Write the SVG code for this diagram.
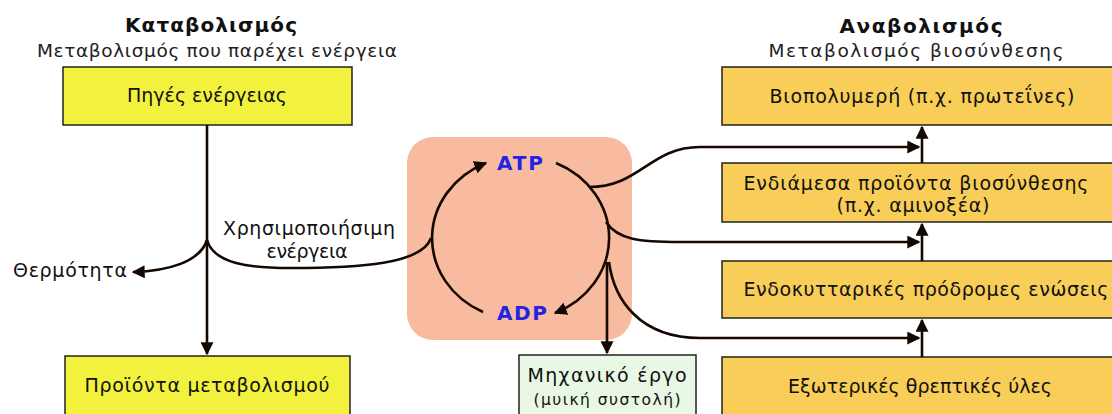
<svg xmlns="http://www.w3.org/2000/svg" width="1112" height="414" viewBox="0 0 1112 414">
  <defs>
    <marker id="arr" viewBox="0 0 10 10" refX="9" refY="5" markerWidth="5" markerHeight="5" orient="auto" markerUnits="strokeWidth">
      <path d="M0,0 L10,5 L0,10 Z" fill="#140800"/>
    </marker>
    <style>
      text { font-family: "DejaVu Sans", Verdana, sans-serif; fill: #111; }
      .title { font-size: 20px; font-weight: bold; text-anchor: middle; }
      .sub { font-size: 18.5px; text-anchor: middle; fill: #222; }
      .lbl { font-size: 19px; text-anchor: middle; }
      .small { font-size: 15.5px; text-anchor: middle; }
      .cat { fill: #f2f23e; stroke: #222; stroke-width: 1.5; }
      .ana { fill: #f8cd58; stroke: #222; stroke-width: 1.5; }
      .mech { fill: #e9f8e4; stroke: #222; stroke-width: 1.5; }
      .cyc { font-size: 20px; font-weight: bold; fill: #2323e6; text-anchor: middle; }
      .ln { fill: none; stroke: #140800; stroke-width: 2.6; }
    </style>
  </defs>

  <rect width="1112" height="414" fill="#ffffff"/>

  <!-- headings -->
  <g id="catabolism-heading">
    <text class="title" x="211" y="32" textLength="172" lengthAdjust="spacing">Καταβολισμός</text>
    <text class="sub" x="217" y="57" textLength="360" lengthAdjust="spacing">Μεταβολισμός που παρέχει ενέργεια</text>
  </g>
  <g id="anabolism-heading">
    <text class="title" x="921" y="33" textLength="163" lengthAdjust="spacing">Αναβολισμός</text>
    <text class="sub" x="916" y="57" textLength="295" lengthAdjust="spacing">Μεταβολισμός βιοσύνθεσης</text>
  </g>

  <!-- ATP / ADP cycle background -->
  <g id="cycle">
    <rect x="407" y="137" width="225" height="203" rx="26" fill="#f8bb9f"/>
    <text class="cyc" x="520" y="170" textLength="46" lengthAdjust="spacing">ATP</text>
    <text class="cyc" x="522" y="320" textLength="50" lengthAdjust="spacing">ADP</text>
  </g>

  <!-- catabolism nodes -->
  <g id="energy-sources">
    <rect class="cat" x="63" y="67" width="289" height="58"/>
    <text class="lbl" x="207" y="102" textLength="160" lengthAdjust="spacing">Πηγές ενέργειας</text>
  </g>
  <g id="metabolic-products">
    <rect class="cat" x="65" y="356" width="285" height="70"/>
    <text class="lbl" x="207" y="392" textLength="245" lengthAdjust="spacing">Προϊόντα μεταβολισμού</text>
  </g>
  <g id="heat">
    <text class="lbl" x="70" y="277" textLength="114" lengthAdjust="spacing">Θερμότητα</text>
  </g>
  <g id="usable-energy">
    <text class="lbl" x="309" y="235" textLength="172" lengthAdjust="spacing">Χρησιμοποιήσιμη</text>
    <text class="lbl" x="307" y="258" textLength="81" lengthAdjust="spacing">ενέργεια</text>
  </g>

  <!-- anabolism nodes -->
  <g id="biopolymers">
    <rect class="ana" x="722" y="67" width="400" height="58"/>
    <text class="lbl" x="922" y="103" textLength="305" lengthAdjust="spacing">Βιοπολυμερή (π.χ. πρωτεΐνες)</text>
  </g>
  <g id="intermediates">
    <rect class="ana" x="722" y="163" width="400" height="59"/>
    <text class="lbl" x="916" y="190" textLength="345" lengthAdjust="spacing">Ενδιάμεσα προϊόντα βιοσύνθεσης</text>
    <text class="lbl" x="913" y="212" textLength="153" lengthAdjust="spacing">(π.χ. αμινοξέα)</text>
  </g>
  <g id="precursors">
    <rect class="ana" x="722" y="261" width="400" height="57"/>
    <text class="lbl" x="926" y="296" textLength="365" lengthAdjust="spacing">Ενδοκυτταρικές πρόδρομες ενώσεις</text>
  </g>
  <g id="nutrients">
    <rect class="ana" x="722" y="357" width="400" height="70"/>
    <text class="lbl" x="920" y="393" textLength="264" lengthAdjust="spacing">Εξωτερικές θρεπτικές ύλες</text>
  </g>
  <g id="mechanical-work">
    <rect class="mech" x="519" y="355" width="177" height="70"/>
    <text class="lbl" x="607" y="382" textLength="159" lengthAdjust="spacing">Μηχανικό έργο</text>
    <text class="small" x="607" y="405" textLength="147" lengthAdjust="spacing">(μυική συστολή)</text>
  </g>

  <!-- connectors -->
  <g id="connectors">
    <!-- catabolism trunk -->
    <path class="ln" d="M207,125 V354" marker-end="url(#arr)"/>
    <path class="ln" d="M207,240 C200,262 168,271 133,272" marker-end="url(#arr)"/>
    <path class="ln" d="M207,240 C214,264 250,268 290,268 C360,268 422,264 431,238"/>
    <!-- ADP to ATP -->
    <path class="ln" d="M483,312 A90,82 0 0 1 486,163" marker-end="url(#arr)"/>
    <!-- ATP to ADP -->
    <path class="ln" d="M556,163 A90,82 0 0 1 555,313" marker-end="url(#arr)"/>
    <!-- energy to anabolism -->
    <path class="ln" d="M589,187 C640,187 650,147 700,147 H919" marker-end="url(#arr)"/>
    <path class="ln" d="M606,222 C618,240 640,242 680,242 H919" marker-end="url(#arr)"/>
    <path class="ln" d="M609,262 C614,300 640,338 700,338 H919" marker-end="url(#arr)"/>
    <!-- to mechanical work -->
    <path class="ln" d="M607,262 V353" marker-end="url(#arr)"/>
    <!-- anabolic chain -->
    <path class="ln" d="M922,357 V320" marker-end="url(#arr)"/>
    <path class="ln" d="M922,261 V224" marker-end="url(#arr)"/>
    <path class="ln" d="M922,163 V127" marker-end="url(#arr)"/>
  </g>
</svg>
